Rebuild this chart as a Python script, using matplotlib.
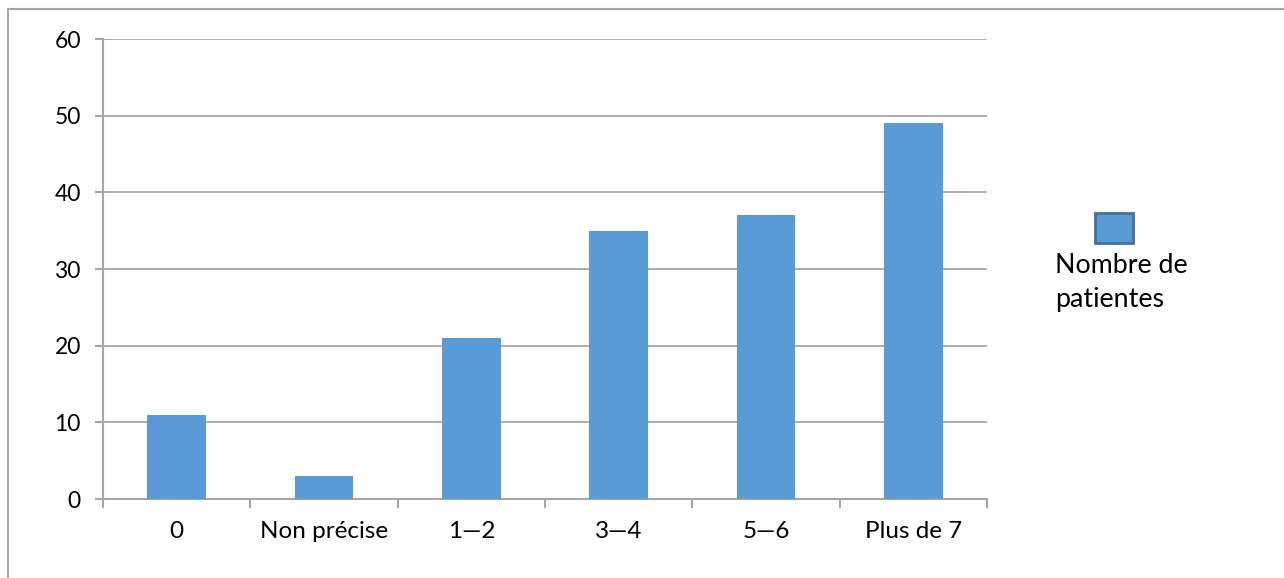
import matplotlib
matplotlib.use("Agg")
import matplotlib.pyplot as plt
from matplotlib.patches import Rectangle

categories = ["0", "Non précise", "1—2", "3—4", "5—6", "Plus de 7"]
patientes = [11, 3, 21, 35, 37, 49]
y_ticks = [0, 10, 20, 30, 40, 50, 60]
series_label = "Nombre de\npatientes"

W, H = 1284, 578
fig = plt.figure(figsize=(W / 100, H / 100), dpi=100)
plt.rcParams["font.family"] = ["Lato", "DejaVu Sans"]

bar_color = "#5b9bd5"
grid_color = "#a6a6a6"

# outer frame of the chart area
fig.patches.append(Rectangle((8 / W, -0.05), 1.2, 1 - 9 / H + 0.05,
                             transform=fig.transFigure, fill=False,
                             edgecolor="#a6a6a6", linewidth=1.5))

ax = fig.add_axes([103 / W, 1 - 499 / H, (987 - 103) / W, (499 - 39) / H])
x = range(len(categories))
ax.bar(x, patientes, width=0.4, color=bar_color, zorder=3)
ax.set_xlim(-0.5, len(categories) - 0.5)
ax.set_ylim(0, 60)
ax.set_yticks(y_ticks)
ax.set_yticklabels([str(v) for v in y_ticks], fontsize=16.5)
ax.set_xticks(list(x))
ax.set_xticklabels(categories, fontsize=17.5)
ax.tick_params(axis="x", length=0, pad=16)
ax.tick_params(axis="y", length=6, color=grid_color, width=1.5, pad=10)
# category boundary ticks on the x axis
for b in [i - 0.5 for i in range(len(categories) + 1)]:
    ax.plot([b, b], [0, -1.0], color=grid_color, lw=1.5, clip_on=False, zorder=4)
ax.yaxis.grid(True, color=grid_color, linewidth=1.3, zorder=0)
for s in ["top", "right"]:
    ax.spines[s].set_visible(False)
for s in ["left", "bottom"]:
    ax.spines[s].set_color(grid_color)
    ax.spines[s].set_linewidth(1.5)

# legend
fig.patches.append(Rectangle((1095 / W, 1 - 243 / H), 38 / W, 30 / H,
                             transform=fig.transFigure, facecolor=bar_color,
                             edgecolor="#41719c", linewidth=2))
fig.text(1055 / W, 1 - 253 / H, series_label, fontsize=19.3, va="top", ha="left",
         linespacing=1.45)

fig.savefig("out.png", dpi=100, facecolor="white")
